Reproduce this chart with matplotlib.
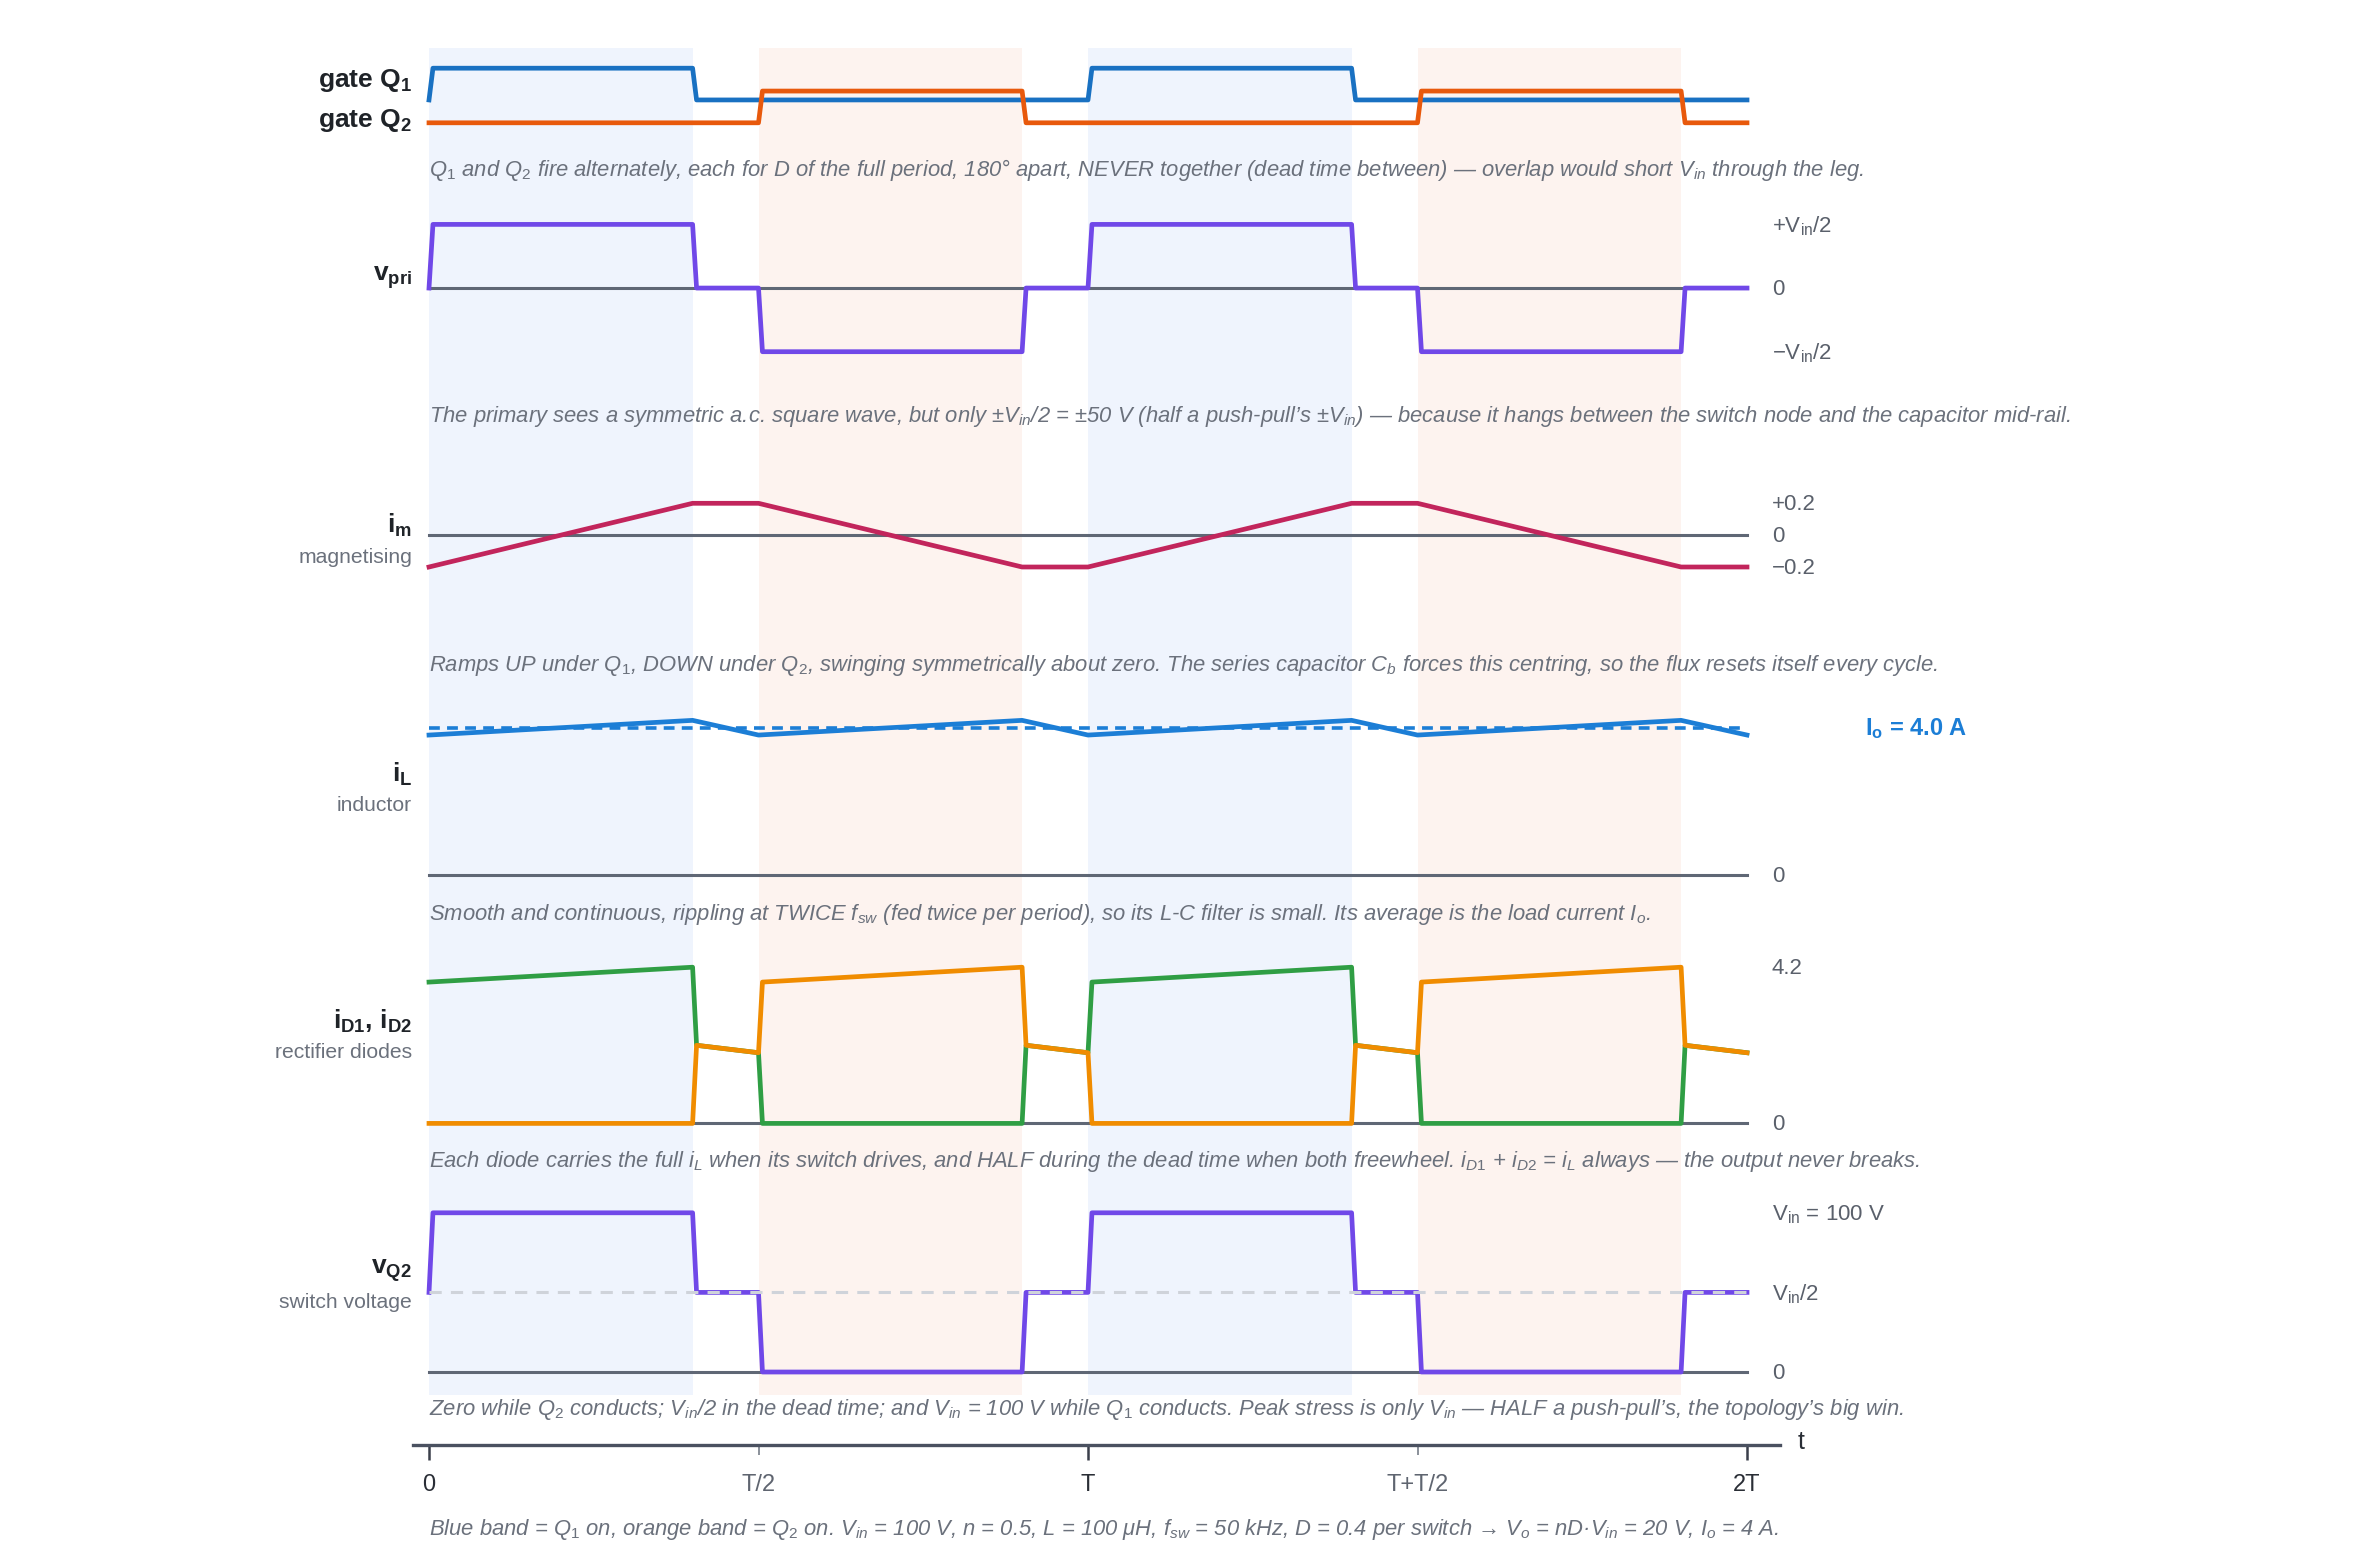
import matplotlib
matplotlib.use("Agg")
import matplotlib.pyplot as plt

plt.rcParams['font.family'] = ['Liberation Sans', 'DejaVu Sans']
plt.rcParams['mathtext.fontset'] = 'custom'
plt.rcParams['mathtext.rm'] = 'Liberation Sans'
plt.rcParams['mathtext.it'] = 'Liberation Sans:italic'
plt.rcParams['mathtext.bf'] = 'Liberation Sans:bold'

# time in units of T, two periods, D = 0.4 per switch
t_q1 = [0.000, 0.006, 0.400, 0.406, 1.000, 1.006, 1.400, 1.406, 2.000]
gate_q1 = [0, 1, 1, 0, 0, 1, 1, 0, 0]
t_q2 = [0.000, 0.500, 0.506, 0.900, 0.906, 1.500, 1.506, 1.900, 1.906, 2.000]
gate_q2 = [0, 0, 1, 1, 0, 0, 1, 1, 0, 0]

t_sq = [0.000, 0.006, 0.400, 0.406, 0.500, 0.506, 0.900, 0.906, 1.000,
        1.006, 1.400, 1.406, 1.500, 1.506, 1.900, 1.906, 2.000]
v_pri = [0, 50, 50, 0, 0, -50, -50, 0, 0, 50, 50, 0, 0, -50, -50, 0, 0]
v_q2 = [50, 100, 100, 50, 50, 0, 0, 50, 50, 100, 100, 50, 50, 0, 0, 50, 50]

t_tri = [0.0, 0.4, 0.5, 0.9, 1.0, 1.4, 1.5, 1.9, 2.0]
i_m = [-0.2, 0.2, 0.2, -0.2, -0.2, 0.2, 0.2, -0.2, -0.2]
i_L = [3.8, 4.2, 3.8, 4.2, 3.8, 4.2, 3.8, 4.2, 3.8]
I_o = 4.0

t_d = [0.000, 0.400, 0.406, 0.500, 0.506, 0.900, 0.906, 1.000,
       1.006, 1.400, 1.406, 1.500, 1.506, 1.900, 1.906, 2.000]
i_d1 = [3.8, 4.2, 2.1, 1.9, 0, 0, 2.1, 1.9, 3.8, 4.2, 2.1, 1.9, 0, 0, 2.1, 1.9]
i_d2 = [0, 0, 2.1, 1.9, 3.8, 4.2, 2.1, 1.9, 0, 0, 2.1, 1.9, 3.8, 4.2, 2.1, 1.9]

q1_bands = [(0.0, 0.4), (1.0, 1.4)]
q2_bands = [(0.5, 0.9), (1.5, 1.9)]

tick_major = [0, 1, 2]
tick_major_lbl = ["0", "T", "2T"]
tick_minor = [0.5, 1.5]
tick_minor_lbl = ["T/2", "T+T/2"]

W, H = 2376, 1560
fig = plt.figure(figsize=(W / 200, H / 200), dpi=200)
X0, X1 = 429, 1747
L, Wd = X0 / W, (X1 - X0) / W

GRID = "#5f6775"
CAP = "#6b717c"
LBL = "#1f2328"
RT = "#5a606b"


def panel(top_px, bot_px, top_val, bot_val):
    ax = fig.add_axes([L, 1 - bot_px / H, Wd, (bot_px - top_px) / H])
    ax.set_xlim(0, 2)
    ax.set_ylim(bot_val, top_val)
    ax.axis("off")
    ax.patch.set_alpha(0)
    return ax


def ftext(x, y, s, **kw):
    fig.text(x / W, 1 - y / H, s, **kw)


# background bands
axb = panel(48, 1395, 1, 0)
for a, b in q1_bands:
    axb.axvspan(a, b, color="#eff4fd", lw=0)
for a, b in q2_bands:
    axb.axvspan(a, b, color="#fdf3ef", lw=0)

LW = 1.7
ZW = 1.1

# gates
ax = panel(68.2, 122.8, 1.72, 0)
ax.plot(t_q1, [g + 0.72 for g in gate_q1], color="#1971c2", lw=LW, clip_on=False)
ax.plot(t_q2, gate_q2, color="#e8590c", lw=LW, clip_on=False)

# v_pri
ax = panel(224.4, 351.7, 50, -50)
ax.plot([0, 2], [0, 0], color=GRID, lw=ZW, clip_on=False)
ax.plot(t_sq, v_pri, color="#7048e8", lw=LW, clip_on=False)

# i_m
ax = panel(503.3, 567.0, 0.2, -0.2)
ax.plot([0, 2], [0, 0], color=GRID, lw=ZW, clip_on=False)
ax.plot(t_tri, i_m, color="#c2255c", lw=LW, clip_on=False)

# i_L
ax = panel(727.7, 874.7, 4.0, 0)
ax.plot([0, 2], [0, 0], color=GRID, lw=ZW, clip_on=False)
ax.plot(t_tri, i_L, color="#1c7ed6", lw=LW, clip_on=False)
ax.plot([0, 2], [I_o, I_o], color="#1c7ed6", lw=1.3, ls=(0, (3, 2)), clip_on=False)

# diodes
ax = panel(967.2, 1123.4, 4.2, 0)
ax.plot([0, 2], [0, 0], color=GRID, lw=ZW, clip_on=False)
ax.plot(t_d, i_d1, color="#2f9e44", lw=LW, clip_on=False)
ax.plot(t_d, i_d2, color="#f08c00", lw=LW, clip_on=False)

# v_Q2
ax = panel(1212.8, 1372.0, 100, 0)
ax.plot([0, 2], [0, 0], color=GRID, lw=ZW, clip_on=False)
ax.plot(t_sq, v_q2, color="#7048e8", lw=LW, clip_on=False)
ax.plot([0, 2], [50, 50], color="#cfd3da", lw=1.1, ls=(0, (4, 3)), clip_on=False)

# time axis
axt = fig.add_axes([L, 1 - 1444.7 / H, Wd, 0.5 / H])
axt.set_xlim(0, 2)
axt.set_ylim(0, 1)
for s in axt.spines.values():
    s.set_visible(False)
axt.patch.set_alpha(0)
axt.set_yticks([])
axt.plot([-0.024, 2.05], [0, 0], color="#4a5160", lw=1.2, clip_on=False)
axt.set_xticks(tick_major)
axt.set_xticklabels(tick_major_lbl)
axt.set_xticks(tick_minor, minor=True)
axt.set_xticklabels(tick_minor_lbl, minor=True)
axt.tick_params(axis="x", which="major", direction="out", length=5.4, width=0.9,
                color="#3a3f4a", labelcolor="#2a2e36", labelsize=8.5, pad=5.3)
axt.tick_params(axis="x", which="minor", direction="out", length=3.6, width=0.7,
                color="#8a909a", labelcolor="#5f6570", labelsize=8.5, pad=7.1)
ftext(1798, 1442, "t", fontsize=9, color="#2a2e36", ha="left", va="center")

# left labels
BF = 9.5
SF = 7.6
ftext(412, 80, r"gate Q$_{\mathbf{1}}$", fontsize=BF, fontweight="bold", color=LBL, ha="right", va="center")
ftext(412, 121, r"gate Q$_{\mathbf{2}}$", fontsize=BF, fontweight="bold", color=LBL, ha="right", va="center")
ftext(412, 278, r"v$_{\mathbf{pri}}$", fontsize=BF, fontweight="bold", color=LBL, ha="right", va="center")
ftext(412, 525, r"i$_{\mathbf{m}}$", fontsize=BF, fontweight="bold", color=LBL, ha="right", va="center")
ftext(412, 557, "magnetising", fontsize=SF, color=CAP, ha="right", va="center")
ftext(412, 774, r"i$_{\mathbf{L}}$", fontsize=BF, fontweight="bold", color=LBL, ha="right", va="center")
ftext(412, 805, "inductor", fontsize=SF, color=CAP, ha="right", va="center")
ftext(412, 1021, r"i$_{\mathbf{D1}}$, i$_{\mathbf{D2}}$", fontsize=BF, fontweight="bold", color=LBL, ha="right", va="center")
ftext(412, 1053, "rectifier diodes", fontsize=SF, color=CAP, ha="right", va="center")
ftext(412, 1271, r"v$_{\mathbf{Q2}}$", fontsize=BF, fontweight="bold", color=LBL, ha="right", va="center")
ftext(412, 1302, "switch voltage", fontsize=SF, color=CAP, ha="right", va="center")

# right labels
RF = 8.0
RX = 1772
DY = 1.5
for y, s in [(224.4, r"+V$_{\mathrm{in}}$/2"), (288, "0"), (351.7, r"−V$_{\mathrm{in}}$/2"),
             (503.3, "+0.2"), (535.2, "0"), (567, "−0.2"),
             (874.7, "0"), (967.2, "4.2"), (1123.4, "0"),
             (1212.8, r"V$_{\mathrm{in}}$ = 100 V"), (1292.4, r"V$_{\mathrm{in}}$/2"), (1372, "0")]:
    ftext(RX, y + DY, s, fontsize=RF, color=RT, ha="left", va="center")
ftext(1865, 729, r"I$_{\mathbf{o}}$ = 4.0 A", fontsize=8.5, fontweight="bold", color="#1c7ed6",
      ha="left", va="center")


# captions
def it(s):
    return r"$_{\mathit{" + s + "}}$"


CF = 7.92
captions = [
    (168.3, "Q" + it("1") + " and Q" + it("2") + " fire alternately, each for D of the full period, 180° apart, "
     "NEVER together (dead time between) — overlap would short V" + it("in") + " through the leg."),
    (415.4, "The primary sees a symmetric a.c. square wave, but only ±V" + it("in") + "/2 = ±50 V "
     "(half a push-pull’s ±V" + it("in") + ") — because it hangs between the switch node and the capacitor mid-rail."),
    (664.0, "Ramps UP under Q" + it("1") + ", DOWN under Q" + it("2") + ", swinging symmetrically about zero. "
     "The series capacitor C" + it("b") + " forces this centring, so the flux resets itself every cycle."),
    (912.6, "Smooth and continuous, rippling at TWICE f" + it("sw") + " (fed twice per period), so its L-C filter "
     "is small. Its average is the load current I" + it("o") + "."),
    (1159.7, "Each diode carries the full i" + it("L") + " when its switch drives, and HALF during the dead time "
     "when both freewheel. i" + it("D1") + " + i" + it("D2") + " = i" + it("L") + " always — the output never breaks."),
    (1408.4, "Zero while Q" + it("2") + " conducts; V" + it("in") + "/2 in the dead time; and V" + it("in") +
     " = 100 V while Q" + it("1") + " conducts. Peak stress is only V" + it("in") +
     " — HALF a push-pull’s, the topology’s big win."),
    (1528.0, "Blue band = Q" + it("1") + " on, orange band = Q" + it("2") + " on. V" + it("in") +
     " = 100 V, n = 0.5, L = 100 μH, f" + it("sw") + " = 50 kHz, D = 0.4 per switch → V" + it("o") +
     " = nD·V" + it("in") + " = 20 V, I" + it("o") + " = 4 A."),
]
for y, s in captions:
    ftext(X0, y + 1.5, s, fontsize=CF, style="italic", color=CAP, ha="left", va="center")

fig.savefig("out.png", dpi=200, facecolor="white")
